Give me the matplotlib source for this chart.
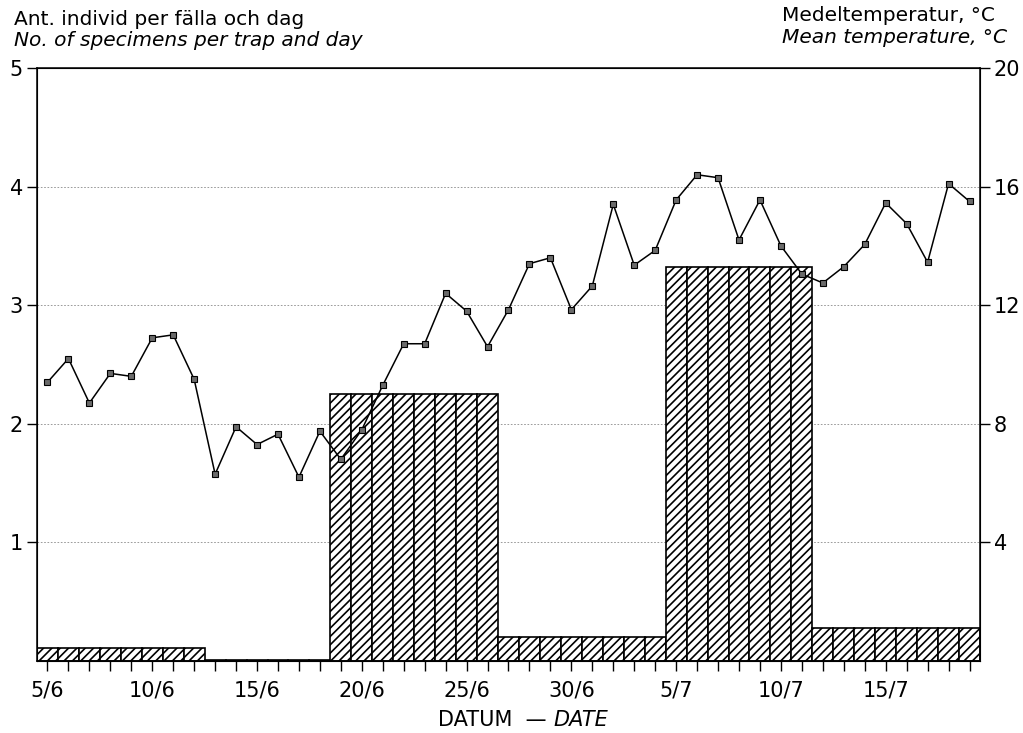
import numpy as np
import matplotlib
matplotlib.use("Agg")
import matplotlib.pyplot as plt

# daily mean temperature from 5/6 to 19/7
temp = [9.4, 10.2, 8.7, 9.7, 9.6, 10.9, 11.0, 9.5, 6.3, 7.9,
        7.3, 7.65, 6.2, 7.75, 6.8, 7.8, 9.3, 10.7, 10.7, 12.4,
        11.8, 10.6, 11.85, 13.4, 13.6, 11.85, 12.65, 15.4, 13.35, 13.85,
        15.55, 16.4, 16.3, 14.2, 15.55, 14.0, 13.05, 12.75, 13.3, 14.05,
        15.45, 14.75, 13.45, 16.1, 15.5]

# trap emptying periods: number of days and catch per trap and day
period_days = [8, 6, 8, 8, 7, 8]
catch = [0.11, 0.01, 2.25, 0.20, 3.32, 0.28]

tick_days = [0, 5, 10, 15, 20, 25, 30, 35, 40]
tick_labels = ["5/6", "10/6", "15/6", "20/6", "25/6", "30/6", "5/7", "10/7", "15/7"]

days = np.arange(len(temp))
daily_catch = np.repeat(catch, period_days)

plt.rcParams["font.family"] = "DejaVu Sans"
plt.rcParams["hatch.linewidth"] = 1.2

fig = plt.figure(figsize=(10.23, 7.33), dpi=100)
ax = fig.add_axes([37 / 1023, 72 / 733, 943 / 1023, 593 / 733])

ax.bar(days, daily_catch, width=1.0, color="white", edgecolor="black",
       hatch="////", linewidth=1.2, zorder=2)

ax.set_xlim(-0.5, len(temp) - 0.5)
ax.set_ylim(0, 5)
ax.set_yticks([1, 2, 3, 4, 5])
ax.set_xticks(days, minor=True)
ax.set_xticks(tick_days)
ax.set_xticklabels(tick_labels)
for y in [1, 2, 3, 4]:
    ax.axhline(y, color="#8a8a8a", lw=0.6, ls=(0, (2, 2)), zorder=1)

ax.tick_params(axis="both", which="both", direction="out", length=7,
               width=1, labelsize=15, color="black")
ax.tick_params(axis="x", pad=7)
ax.tick_params(axis="y", pad=3)
for s in ax.spines.values():
    s.set_linewidth(1.1)

ax2 = ax.twinx()
ax2.set_ylim(0, 20)
ax2.set_yticks([4, 8, 12, 16, 20])
ax2.tick_params(axis="y", direction="out", length=7, width=1,
                labelsize=15, pad=3)
ax2.plot(days, temp, color="black", lw=1.1, marker="s", markersize=5,
         markerfacecolor="#6a6a6a", markeredgecolor="black",
         markeredgewidth=0.8, zorder=3)

fig.text(14 / 1023, 1 - 25 / 733, "Ant. individ per fälla och dag",
         fontsize=14.5, ha="left", va="baseline")
fig.text(14 / 1023, 1 - 46 / 733, "No. of specimens per trap and day",
         fontsize=14.5, style="italic", ha="left", va="baseline")
fig.text(782 / 1023, 1 - 21 / 733, "Medeltemperatur, °C",
         fontsize=14.5, ha="left", va="baseline")
fig.text(782 / 1023, 1 - 43 / 733, "Mean temperature, °C",
         fontsize=14.5, style="italic", ha="left", va="baseline")

fig.text(546 / 1023, 1 - 726 / 733, "DATUM  —", fontsize=15,
         ha="right", va="baseline")
fig.text(553 / 1023, 1 - 726 / 733, "DATE", fontsize=15, style="italic",
         ha="left", va="baseline")

fig.savefig("out.png", dpi=100)
